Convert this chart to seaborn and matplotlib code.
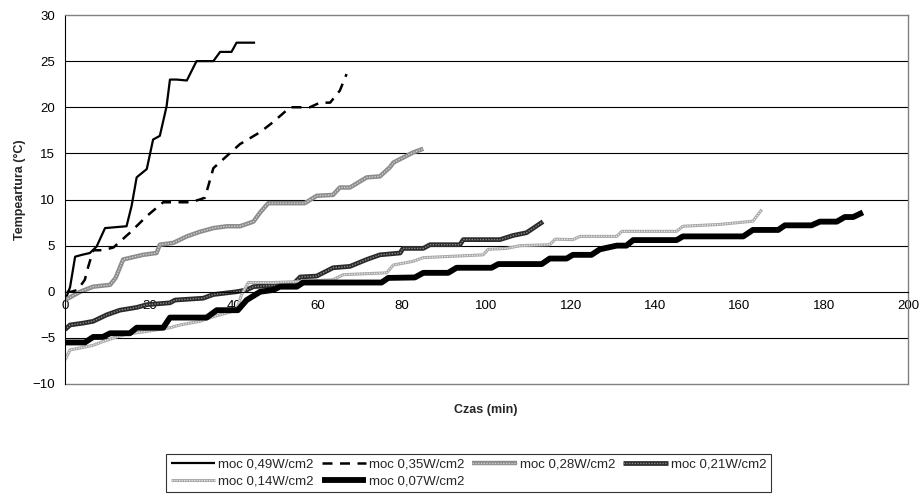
#!/usr/bin/env python3
# Temperature vs. time for several heating powers (Excel-style chart)

import matplotlib
matplotlib.use("Agg")
import matplotlib.pyplot as plt
from matplotlib.legend_handler import HandlerTuple
import seaborn as sns

# time (min) / temperature (C), one pair per series
t049 = [0, 1.2, 2.4, 3.2, 4, 5.9, 7.5, 9.5, 12, 14.6, 15.8, 17, 19.4, 20.9, 22.5, 24.1, 24.9, 26.5,
        28.9, 31.2, 35.2, 36.8, 39.5, 40.7, 45.1]
y049 = [-1, 0.5, 3.8, 3.9, 4.0, 4.2, 4.9, 6.9, 7.0, 7.1, 9.3, 12.4, 13.3, 16.5, 16.9, 20.1, 23.0, 23.0,
        22.9, 25.0, 25.0, 26.0, 26.0, 27.0, 27.0]

t035 = [0.4, 1.5, 3.0, 4.7, 5.5, 6.7, 9.0, 11.5, 15.4, 19.4, 23.3, 29.7, 32.0, 33.2, 35.2, 41.5, 46.3,
        49.4, 53.4, 58.1, 60.5, 62.9, 65.2, 66.8]
y035 = [0, 0, 0.2, 1.3, 2.7, 4.5, 4.5, 4.8, 6.4, 8.2, 9.7, 9.7, 10.0, 10.2, 13.4, 16.0, 17.3,
        18.4, 20.0, 20.0, 20.5, 20.5, 21.8, 23.6]

t028 = [0, 3.6, 6.7, 10.7, 12.0, 13.8, 18.5, 21.7, 22.5, 25.7, 28.9, 32.0, 35.2, 38.4, 41.5, 44.7,
        46.3, 48.2, 51.0, 56.9, 59.7, 63.6, 65.2, 67.6, 71.6, 74.7, 77.1, 77.9, 82.6, 85.0]
y028 = [-0.9, 0, 0.55, 0.75, 1.5, 3.5, 4.0, 4.2, 5.1, 5.3, 6.0, 6.5, 6.9, 7.1, 7.1, 7.6,
        8.6, 9.6, 9.6, 9.6, 10.4, 10.5, 11.3, 11.3, 12.4, 12.5, 13.5, 14.0, 15.1, 15.5]

t021 = [0, 1.2, 4.3, 6.7, 9.9, 13.0, 17.0, 19.4, 24.9, 26.1, 32.8, 35.2, 40.7, 43.1, 44.7, 47.8, 54.1,
        55.8, 59.7, 63.6, 67.6, 71.6, 74.7, 79.5, 80.2, 85.0, 86.6, 93.7, 94.5, 103.2, 106.3, 109.5, 113.4]
y021 = [-4.1, -3.6, -3.4, -3.2, -2.5, -2.0, -1.7, -1.4, -1.2, -0.9, -0.7, -0.3, 0, 0.2, 0.55, 0.65, 0.8,
        1.6, 1.7, 2.6, 2.75, 3.5, 4.0, 4.2, 4.7, 4.7, 5.1, 5.1, 5.65, 5.65, 6.1, 6.4, 7.6]

t014 = [0, 1.2, 3.6, 6.7, 9.0, 12.3, 14.6, 19.4, 24.9, 27.3, 32.0, 35.2, 38.4, 40.7, 41.9, 43.5, 49.4,
        55.0, 63.6, 66.0, 76.3, 77.9, 82.6, 85.0, 99.2, 100.4, 104.8, 108.0, 115.0, 116.3, 120.5, 122.2,
        130.9, 132.1, 145.1, 146.6, 155.4, 163.2, 165.3]
y014 = [-7.4, -6.3, -6.1, -5.8, -5.4, -4.9, -4.6, -4.3, -3.9, -3.6, -3.2, -2.7, -2.3, -2.0, -0.3, 1.0, 1.0,
        1.1, 1.3, 1.85, 2.05, 2.9, 3.3, 3.7, 4.0, 4.6, 4.7, 5.0, 5.1, 5.7, 5.65, 6.0,
        6.0, 6.55, 6.55, 7.1, 7.3, 7.65, 8.9]

t007 = [0, 4.7, 6.7, 9.0, 10.7, 15.4, 17.0, 23.3, 24.9, 33.6, 36.0, 41.0, 43.1, 46.3, 49.4, 51.0, 55.0,
        56.5, 75.1, 76.7, 83.0, 85.0, 90.9, 92.9, 101.2, 102.8, 113.1, 115.0, 119.0, 120.5, 124.9, 126.9,
        130.9, 133.2, 134.8, 145.1, 146.6, 160.9, 163.2, 169.2, 170.8, 177.1, 179.1, 183.1, 185.0, 187.0, 189.3]
y007 = [-5.5, -5.5, -4.9, -4.9, -4.5, -4.5, -3.9, -3.9, -2.8, -2.8, -2.0, -2.0, -0.9, 0, 0.2, 0.55, 0.55,
        1.0, 1.0, 1.5, 1.55, 2.05, 2.05, 2.6, 2.6, 3.0, 3.0, 3.6, 3.6, 4.0, 4.0, 4.6,
        5.0, 5.0, 5.6, 5.6, 6.0, 6.0, 6.7, 6.7, 7.2, 7.2, 7.6, 7.6, 8.1, 8.1, 8.6]

labels = ["moc 0,49W/cm2", "moc 0,35W/cm2", "moc 0,28W/cm2",
          "moc 0,21W/cm2", "moc 0,14W/cm2", "moc 0,07W/cm2"]

sns.set_style("white")
plt.rcParams["font.family"] = ["Liberation Sans", "DejaVu Sans"]

fig = plt.figure(figsize=(9.2, 5.04), dpi=100)
ax = fig.add_axes([65 / 920, 1 - 384 / 504, (908 - 65) / 920, (384 - 15) / 504])

# horizontal grid (Excel style, black)
for v in [-5, 5, 10, 15, 20, 25]:
    ax.axhline(v, color="black", lw=0.8, zorder=0)

series = [(t049, y049), (t035, y035), (t028, y028), (t021, y021), (t014, y014), (t007, y007)]
# base style, optional overlay style for the "patterned" Excel lines
styles = [
    (dict(color="black", lw=1.6), None),
    (dict(color="black", lw=1.8, dashes=(4, 3)), None),
    (dict(color="#8c8c8c", lw=3.2), dict(color="#cfcfcf", lw=1.0, dashes=(1, 1))),
    (dict(color="#2a2a2a", lw=3.4), dict(color="#8a8a8a", lw=1.0, dashes=(1, 1))),
    (dict(color="#a8a8a8", lw=2.2), dict(color="#ececec", lw=0.9, dashes=(1, 1))),
    (dict(color="black", lw=4.2), None),
]

handles = []
for (t, y), (base, over) in zip(series, styles):
    kw = dict(base)
    dashes = kw.pop("dashes", None)
    sns.lineplot(x=t, y=y, ax=ax, estimator=None, sort=False, **kw)
    ln = ax.lines[-1]
    if dashes:
        ln.set_dashes(dashes)
    ln.set_solid_capstyle("butt")
    parts = [ln]
    if over:
        okw = dict(over)
        od = okw.pop("dashes")
        sns.lineplot(x=t, y=y, ax=ax, estimator=None, sort=False, **okw)
        ol = ax.lines[-1]
        ol.set_dashes(od)
        parts.append(ol)
    handles.append(tuple(parts))

ax.set_xlim(0, 200)
ax.set_ylim(-10, 30)
ax.set_xticks(range(0, 201, 20))
ax.set_yticks(range(-10, 31, 5))
ax.tick_params(axis="both", labelsize=9.5, length=4, width=0.8, direction="out", pad=3,
               colors="black")
ax.tick_params(axis="x", length=3)

ax.spines["bottom"].set_position(("data", 0))
ax.spines["bottom"].set_color("black")
ax.spines["bottom"].set_linewidth(0.8)
ax.spines["left"].set_color("black")
ax.spines["left"].set_linewidth(0.8)
for s in ["top", "right"]:
    ax.spines[s].set_color("#808080")
    ax.spines[s].set_linewidth(1.0)
# bottom border of the plot area (x axis sits at 0)
ax.axhline(-10, color="#808080", lw=1.0, clip_on=False)
ax.set_xlabel("")
ax.set_ylabel("")

fig.text(486 / 920, 1 - 410 / 504, "Czas (min)", ha="center", va="center",
         fontsize=9, fontweight="bold")
fig.text(20 / 920, 1 - 190 / 504, "Tempeartura (°C)", ha="center", va="center",
         rotation=90, fontsize=9, fontweight="bold")

# reorder so rows read 1-2-3-4 / 5-6 with ncol=4
order = [0, 4, 1, 5, 2, 3]
leg = fig.legend([handles[i] for i in order], [labels[i] for i in order],
                 handler_map={tuple: HandlerTuple(ndivide=1, pad=0)},
                 loc="upper left", bbox_to_anchor=(166 / 920, 1 - 454 / 504),
                 ncol=4, fontsize=9.5, frameon=True, fancybox=False, shadow=False,
                 handlelength=3.4, handletextpad=0.2, columnspacing=0.6,
                 labelspacing=0.35, borderpad=0.35, borderaxespad=0)
leg.get_frame().set_edgecolor("black")
leg.get_frame().set_linewidth(0.8)

plt.savefig("out.png", dpi=100)
plt.close(fig)
